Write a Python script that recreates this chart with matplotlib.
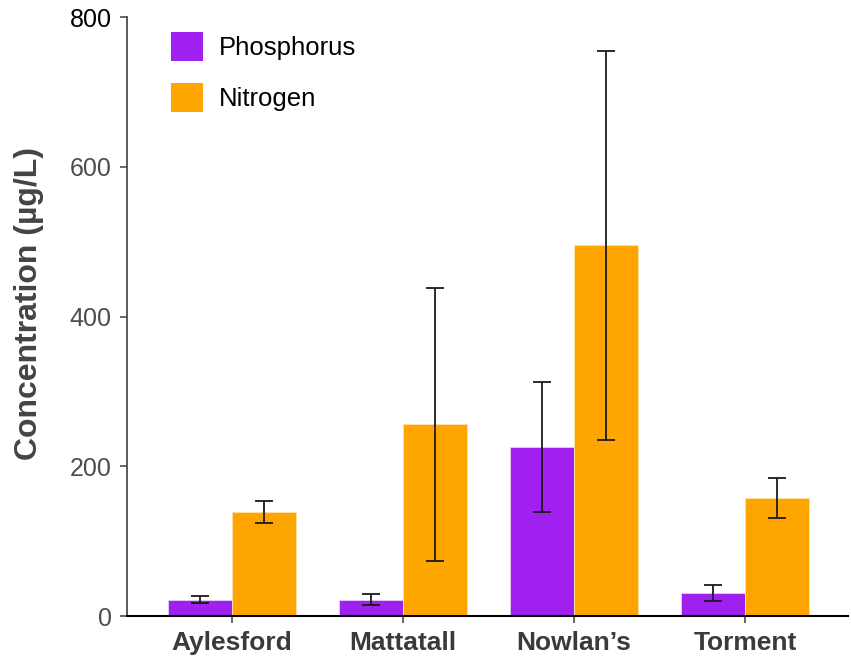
import matplotlib
matplotlib.use("Agg")
import matplotlib.pyplot as plt
import numpy as np

sites = ["Aylesford", "Mattatall", "Nowlan\u2019s", "Torment"]
phosphorus = [22, 22, 226, 31]
phosphorus_err = [4.5, 7, 87, 11]
nitrogen = [139, 256, 495, 158]
nitrogen_err = [15, 182, 260, 27]
yticks = [0, 200, 400, 600, 800]

plt.rcParams['font.family'] = ['Liberation Sans', 'DejaVu Sans']

fig = plt.figure(figsize=(8.51, 6.57), dpi=100)
ax = fig.add_axes([0.149, 0.0624, 0.8475, 0.9116])

x = np.arange(len(sites))
w = 0.374
err_kw = dict(ecolor="#1a1a1a", elinewidth=1.3, capsize=6.3, capthick=1.3)
ax.bar(x - w / 2, phosphorus, w, yerr=phosphorus_err, color="#A020F0",
       edgecolor="#e8d0f5", linewidth=0.6, label="Phosphorus", error_kw=err_kw)
ax.bar(x + w / 2, nitrogen, w, yerr=nitrogen_err, color="#FFA500",
       edgecolor="#ffe2a8", linewidth=0.6, label="Nitrogen", error_kw=err_kw)

ax.set_xlim(-0.614, 3.602)
ax.set_ylim(0, 800)
ax.set_yticks(yticks)
ax.set_yticklabels([str(t) for t in yticks])
ax.set_xticks(x)
ax.set_xticklabels(sites, fontsize=19, fontweight="bold", color="#3a3a3a")
ax.tick_params(axis="y", labelsize=18, colors="#4d4d4d", length=5, width=1.2, pad=6)
ax.tick_params(axis="x", length=5, width=1.2, color="#4d4d4d", pad=6)
ax.get_yticklabels()[-1].set_color("black")

for s in ["top", "right"]:
    ax.spines[s].set_visible(False)
ax.spines["left"].set_color("#4d4d4d")
ax.spines["left"].set_linewidth(1.3)
ax.spines["bottom"].set_color("black")
ax.spines["bottom"].set_linewidth(1.5)

ax.set_ylabel("Concentration (\u00b5g/L)", fontsize=23, fontweight="bold",
              color="#444444")
ax.yaxis.set_label_coords(-0.115, 0.522)

leg = ax.legend(loc="upper left", bbox_to_anchor=(0.04, 1.0), frameon=False,
                fontsize=18.5, handlelength=1.25, handleheight=1.35,
                handletextpad=0.6, labelspacing=0.85, borderaxespad=0.2)
for h in leg.legend_handles:
    h.set_edgecolor("none")

fig.savefig("out.png", dpi=100)
